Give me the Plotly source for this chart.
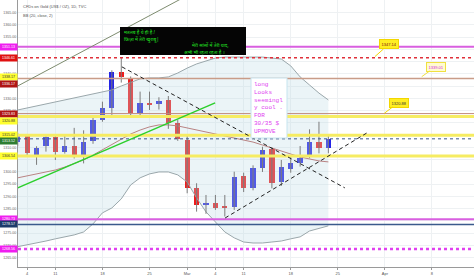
import plotly.graph_objects as go

# ---------------- data ----------------
dates = ["Feb 5", "Feb 6", "Feb 7", "Feb 8", "Feb 11", "Feb 12", "Feb 13", "Feb 14", "Feb 15",
         "Feb 18", "Feb 19", "Feb 20", "Feb 21", "Feb 22", "Feb 25", "Feb 26", "Feb 27", "Feb 28",
         "Mar 1", "Mar 4", "Mar 5", "Mar 6", "Mar 7", "Mar 8", "Mar 11", "Mar 12", "Mar 13",
         "Mar 14", "Mar 15", "Mar 18", "Mar 19", "Mar 20", "Mar 21", "Mar 22"]
opens = [1312.4, 1314.7, 1306.2, 1310.6, 1314.4, 1308.2, 1310.6, 1306.2, 1312.7,
         1321.2, 1326.2, 1340.9, 1338.2, 1324.0, 1328.3, 1327.6, 1329.4, 1319.9,
         1313.1, 1293.3, 1286.5, 1287.5, 1286.3, 1285.8, 1298.5, 1293.3, 1301.5,
         1309.3, 1296.0, 1301.1, 1303.8, 1306.5, 1312.4, 1309.7]
highs = [1316.0, 1315.5, 1310.5, 1315.0, 1315.0, 1315.1, 1318.0, 1317.0, 1322.9,
         1328.7, 1341.5, 1346.6, 1339.0, 1332.8, 1332.8, 1330.5, 1331.0, 1321.2,
         1314.7, 1295.4, 1290.6, 1290.6, 1290.6, 1300.1, 1299.7, 1302.7, 1310.3,
         1310.0, 1304.9, 1306.5, 1310.6, 1317.4, 1320.5, 1315.5]
lows = [1310.5, 1306.5, 1302.9, 1308.3, 1304.9, 1307.5, 1305.5, 1303.5, 1311.5,
        1320.5, 1323.3, 1336.5, 1322.5, 1322.5, 1325.3, 1325.5, 1317.6, 1312.7,
        1291.3, 1283.8, 1282.9, 1284.5, 1281.8, 1284.5, 1291.8, 1292.5, 1300.0,
        1293.3, 1294.3, 1299.7, 1302.2, 1305.6, 1307.6, 1307.6]
closes = [1315.1, 1307.6, 1309.9, 1314.4, 1308.3, 1310.6, 1306.2, 1312.4, 1321.2,
          1326.0, 1340.9, 1338.6, 1324.0, 1328.0, 1327.6, 1329.1, 1319.9, 1313.3,
          1293.3, 1286.5, 1287.5, 1285.4, 1285.4, 1297.8, 1293.3, 1301.5, 1309.0,
          1295.6, 1302.2, 1303.5, 1305.6, 1312.4, 1309.7, 1313.5]

bb_upper = [1325.3, 1326.1, 1326.9, 1327.8, 1328.6, 1329.4, 1330.2, 1331.0, 1331.8,
            1332.7, 1333.5, 1335.1, 1336.7, 1338.0, 1338.4, 1338.4, 1338.8, 1340.4,
            1342.4, 1344.1, 1345.3, 1346.5, 1346.9, 1346.9, 1346.9, 1346.9, 1346.9,
            1346.5, 1346.1, 1343.3, 1338.8, 1335.5, 1332.2, 1329.4]
bb_basis = [1297.6, 1298.4, 1299.2, 1300.0, 1300.8, 1302.0, 1303.3, 1304.9, 1306.9,
            1309.0, 1311.4, 1313.5, 1315.5, 1317.1, 1318.4, 1319.2, 1319.2, 1318.8,
            1318.0, 1317.1, 1316.3, 1315.5, 1314.7, 1313.9, 1313.1, 1312.2, 1311.0,
            1309.8, 1308.6, 1307.3, 1306.1, 1305.3, 1304.5, 1304.1]
bb_lower = [1269.5, 1270.2, 1271.0, 1271.8, 1272.7, 1273.5, 1274.3, 1275.5, 1278.8,
            1283.3, 1285.3, 1289.0, 1294.7, 1297.6, 1299.2, 1300.0, 1300.0, 1298.8,
            1295.9, 1289.4, 1283.7, 1279.6, 1275.5, 1273.1, 1271.4, 1271.0, 1271.0,
            1271.4, 1271.8, 1272.7, 1273.5, 1275.9, 1277.1, 1278.0]

x_tick_bars = [1, 4, 9, 14, 18, 21, 24, 29, 34, 39, 44]
x_tick_text = ["4", "11", "18", "25", "Mar", "4", "11", "18", "25", "Apr", "8"]

price_grid = list(range(1265, 1370, 5))
price_hidden = [1280, 1305, 1315, 1320, 1335, 1345, 1350]

# horizontal levels drawn on chart
lvl_magenta = [1351.13, 1280.73]
lvl_red_dot = [1346.61]
lvl_tan = [1338.17]
lvl_yellow = [1322.6, 1315.02, 1306.54]
lvl_brown = [1323.83]
lvl_last = [1313.52]
lvl_navy = [1278.57]
lvl_magenta_dot = [1268.56]

# price tags on the left scale: (value, text)
tag_values = [1351.13, 1346.61, 1338.17, 1336.17, 1323.83, 1320.88, 1315.02, 1313.52,
              1306.54, 1280.73, 1278.57, 1268.56]
tag_texts = ["1351.13", "1346.61", "1338.17", "1336.17", "1323.83", "1320.88", "1315.02",
             "1313.52", "1306.54", "1280.73", "1278.57", "1268.56"]

# drawings: (bar, price) endpoints
trend_olive = [(0.0, 1335.1), (20.0, 1376.1)]
trend_green = [(0.0, 1293.5), (20.97, 1328.2)]
dash_down = [(11.07, 1342.9), (34.75, 1293.5)]
dash_up = [(22.03, 1281.2), (37.08, 1315.9)]

callout_texts = ["1347.14", "1339.01", "1320.88"]
hindi_lines = ["मतलब है ये ही है !", "फिज़ा में तेरी खुशबू|", "मेरी सांसों में तेरी याद,", "अभी भी रहता रहता है ।"]
note_lines = ["long", "Looks", "seemingl", "y cool .", "FOR", "30/35 $", "UPMOVE"]

# ---------------- layout constants ----------------
W, H = 474, 279
ML, MR, MT, MB = 18, 0, 0, 12
PW, PH = W - ML - MR, H - MT - MB


def px(x):
    return (x - ML) / PW


def py(y):
    return (H - MB - y) / PH


bars = list(range(len(dates)))
UP, DN = "#2424e6", "#ee1c1c"

fig = go.Figure()

# Bollinger bands
fig.add_trace(go.Scatter(x=bars, y=bb_lower, mode="lines", line=dict(color="#9aa7ab", width=1),
                         hoverinfo="skip", showlegend=False))
fig.add_trace(go.Scatter(x=bars, y=bb_upper, mode="lines", line=dict(color="#9aa7ab", width=1),
                         fill="tonexty", fillcolor="rgba(190,220,228,0.30)",
                         hoverinfo="skip", showlegend=False))
fig.add_trace(go.Scatter(x=bars, y=bb_basis, mode="lines", line=dict(color="#b98383", width=1),
                         hoverinfo="skip", showlegend=False))

# wicks
wx, wy = [], []
for i, (lo, hi) in enumerate(zip(lows, highs)):
    wx += [i, i, None]
    wy += [lo, hi, None]
fig.add_trace(go.Scatter(x=wx, y=wy, mode="lines", line=dict(color="#7c7c7c", width=1),
                         hoverinfo="skip", showlegend=False))

# bodies
fig.add_trace(go.Bar(
    x=bars,
    y=[max(abs(c - o), 0.35) for o, c in zip(opens, closes)],
    base=[min(o, c) for o, c in zip(opens, closes)],
    marker=dict(color=[UP if c >= o else DN for o, c in zip(opens, closes)], line=dict(width=0)),
    width=0.56, showlegend=False, hoverinfo="skip"))

shapes = []


def hline(v, color, width, dash="solid"):
    shapes.append(dict(type="line", xref="paper", x0=0, x1=1, yref="y", y0=v, y1=v,
                       line=dict(color=color, width=width, dash=dash), layer="above"))


for v in lvl_yellow:
    hline(v, "#f6ec62", 3)
for v in lvl_magenta:
    hline(v, "#d95fe0", 2)
for v in lvl_red_dot:
    hline(v, "#e0303a", 1.5, "dot")
for v in lvl_tan:
    hline(v, "#c99c88", 1.5)
for v in lvl_brown:
    hline(v, "#c08a7c", 1)
for v in lvl_last:
    hline(v, "#3a5687", 1, "dot")
for v in lvl_navy:
    hline(v, "#3b5a8c", 1.5)
for v in lvl_magenta_dot:
    hline(v, "#e040f0", 2.5, "dot")


def seg(pts, color, width, dash="solid"):
    (x0, y0), (x1, y1) = pts
    shapes.append(dict(type="line", xref="x", yref="y", x0=x0, y0=y0, x1=x1, y1=y1,
                       line=dict(color=color, width=width, dash=dash), layer="above"))


seg(trend_olive, "#7d8b6e", 1)
seg(trend_green, "#2ccf2c", 1.5)
seg(dash_down, "#222222", 1, "4px,3px")
seg(dash_up, "#222222", 1, "4px,3px")

# black note box
shapes.append(dict(type="rect", xref="paper", yref="paper", x0=px(120), x1=px(246),
                   y0=py(55), y1=py(27), fillcolor="#050505", line=dict(width=0), layer="above"))
# light note box
shapes.append(dict(type="rect", xref="paper", yref="paper", x0=px(251), x1=px(287),
                   y0=py(138), y1=py(78), fillcolor="white", line=dict(color="#c6e4ef", width=1),
                   layer="above"))

annotations = []
# legend texts
annotations.append(dict(xref="paper", yref="paper", x=px(21), y=py(7), xanchor="left", yanchor="middle",
                        text="CFDs on Gold (US$ / OZ), 1D, TVC", showarrow=False,
                        font=dict(size=4, color="#555555")))
annotations.append(dict(xref="paper", yref="paper", x=px(21), y=py(15), xanchor="left", yanchor="middle",
                        text="BB (20, close, 2)", showarrow=False, font=dict(size=4, color="#555555")))

# hindi lines
hpos = [(122, 32), (122, 39), (190, 45), (182, 51.5)]
for (hx, hy), t in zip(hpos, hindi_lines):
    annotations.append(dict(xref="paper", yref="paper", x=px(hx), y=py(hy), xanchor="left",
                            yanchor="middle", text="<i>" + t + "</i>", showarrow=False,
                            font=dict(size=4.8, color="#22e022", family="Noto Sans, sans-serif")))

# light note text
annotations.append(dict(xref="paper", yref="paper", x=px(252), y=py(79), xanchor="left", yanchor="top",
                        align="left", text="<br>".join(note_lines), showarrow=False,
                        font=dict(size=6.0, color="#e040f0", family="Liberation Mono, Courier New, monospace")))

# callouts (tip px, center px, bg, border, text colour)
callout_geo = [((375, 56.5), (388.5, 44.5), "#ffee22", "#f2d600", "#7a1010"),
               ((421.7, 76.7), (436, 66.5), "#fffbd0", "#f0e040", "#d020e0"),
               ((384.3, 113.3), (398.5, 102.5), "#ffee22", "#f2d600", "#333333")]
for t, ((tx, ty), (cx, cy), bg, bd, fc) in zip(callout_texts, callout_geo):
    annotations.append(dict(xref="paper", yref="paper", x=px(tx), y=py(ty), ax=cx - tx, ay=cy - ty,
                            text=t, showarrow=True, arrowhead=0, arrowwidth=1, arrowcolor=bd,
                            bgcolor=bg, bordercolor=bd, borderwidth=1, borderpad=1.5,
                            font=dict(size=4, color=fc)))

# left price tags
tag_style = {
    "1351.13": ("#f01ef0", "white", 0), "1346.61": ("#e01010", "white", 0),
    "1338.17": ("#ffff30", "#333333", 0.5), "1336.17": ("#b01515", "white", -0.3),
    "1323.83": ("#b01515", "white", 0), "1320.88": ("#ffff30", "#333333", 0),
    "1315.02": ("#ffff30", "#333333", 0), "1313.52": ("#2e7d32", "white", -0.8),
    "1306.54": ("#ffff30", "#333333", 0), "1280.73": ("#f01ef0", "white", 0),
    "1278.57": ("#1d3c6c", "white", 0), "1268.56": ("#f01ef0", "white", 0),
}
for v, t in zip(tag_values, tag_texts):
    bg, fc, sh = tag_style[t]
    annotations.append(dict(xref="paper", yref="y", x=0, y=v + sh, xanchor="right", yanchor="middle",
                            text=t, showarrow=False, bgcolor=bg, width=17, height=6, borderpad=0,
                            font=dict(size=3.6, color=fc)))

fig.update_layout(
    width=W, height=H,
    margin=dict(l=ML, r=MR, t=MT, b=MB),
    paper_bgcolor="white", plot_bgcolor="white",
    font=dict(family="Liberation Sans, Arial, sans-serif", color="#555555"),
    showlegend=False,
    bargap=0,
    shapes=shapes,
    annotations=annotations,
    xaxis=dict(range=[0.03, 48.47], tickmode="array", tickvals=x_tick_bars, ticktext=x_tick_text,
               showgrid=True, gridcolor="#eef1f3", gridwidth=1, zeroline=False,
               showline=True, linecolor="#9a9a9a", linewidth=1, ticks="outside", ticklen=2,
               tickcolor="#9a9a9a", tickfont=dict(size=4, color="#555555"), fixedrange=True),
    yaxis=dict(range=[1261.2, 1370.2], tickmode="array", tickvals=price_grid,
               ticktext=["" if v in price_hidden else f"{v:.2f}" for v in price_grid],
               showgrid=True, gridcolor="#eef1f3", gridwidth=1, zeroline=False,
               showline=True, linecolor="#9a9a9a", linewidth=1, ticks="",
               tickfont=dict(size=3.6, color="#666666"), fixedrange=True),
)

fig.write_html("out.html")
